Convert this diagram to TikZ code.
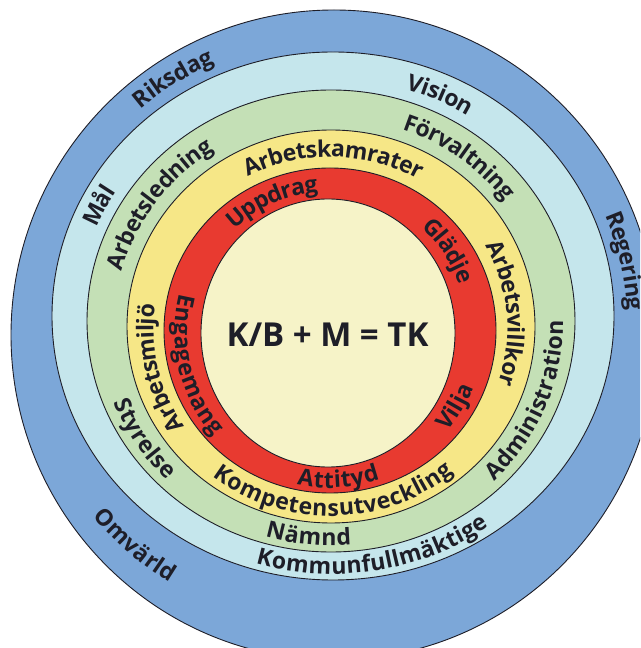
\documentclass[tikz,border=0pt]{standalone}
\usepackage{fontspec}
\setmainfont{Open Sans}
\usetikzlibrary{decorations.text}
\definecolor{cblue}{RGB}{124,167,216}
\definecolor{clblue}{RGB}{197,230,236}
\definecolor{cgreen}{RGB}{196,224,182}
\definecolor{cyellow}{RGB}{246,231,135}
\definecolor{cred}{RGB}{232,58,48}
\definecolor{ccream}{RGB}{246,243,200}
\definecolor{ctxt}{RGB}{30,30,40}
\newcommand\ringfont{\fontsize{23}{23}\selectfont\bfseries\color{ctxt}}
% #1 cx, #2 cy, #3 rx, #4 ry, #5 start angle, #6 end angle, #7 text
\newcommand\ringtext[7]{\path[decorate,decoration={text along path,text={|\ringfont|#7},text align=center,raise=-8pt}] (#1,#2) ++(#5:#3 and #4) arc[start angle=#5,end angle=#6,x radius=#3,y radius=#4];}
\tikzset{ring/.style={draw=ctxt,line width=0.9pt}}
\begin{document}
\begin{tikzpicture}[x=1pt,y=1pt]
\useasboundingbox (0,0) rectangle (640,648);
\clip (0,0) rectangle (640,648);
\fill[white] (0,0) rectangle (640,648);
\filldraw[ring,fill=cblue]   (334,313)   ellipse [x radius=323, y radius=325];
\filldraw[ring,fill=clblue]  (333,332)   ellipse [x radius=281, y radius=264];
\filldraw[ring,fill=cgreen]  (331,327)   ellipse [x radius=244, y radius=231];
\filldraw[ring,fill=cyellow] (331,321.5) ellipse [x radius=204, y radius=196.5];
\filldraw[ring,fill=cred]    (330,317.5) ellipse [x radius=166, y radius=162.5];
\filldraw[ring,fill=ccream]  (328,315)   ellipse [x radius=127, y radius=134];
% blue band
\ringtext{333.5}{322.5}{302}{294.5}{193}{53}{Riksdag}
\ringtext{333.5}{322.5}{302}{294.5}{82.5}{-57.5}{Regering}
\ringtext{333.5}{322.5}{302}{294.5}{158}{298}{Omvärld}
% light blue band
\ringtext{332}{329.5}{262.5}{247.5}{134.4}{-5.6}{Vision}
\ringtext{332}{329.5}{262.5}{247.5}{224}{84}{Mål}
\ringtext{332}{329.5}{262.5}{247.5}{200}{360}{Kommunfullmäktige}
% green band
\ringtext{331}{324.25}{224}{213.75}{225}{65}{Arbetsledning}
\ringtext{331}{324.25}{224}{213.75}{132.5}{-27.5}{Förvaltning}
\ringtext{331}{324.25}{224}{213.75}{258.5}{418.5}{Administration}
\ringtext{331}{324.25}{224}{213.75}{184}{344}{Nämnd}
\ringtext{331}{324.25}{224}{213.75}{131.7}{291.7}{Styrelse}
% yellow band
\ringtext{330.5}{319.5}{185}{179.5}{169}{9}{Arbetskamrater}
\ringtext{330.5}{319.5}{185}{179.5}{85}{-75}{Arbetsvillkor}
\ringtext{330.5}{319.5}{185}{179.5}{273}{113}{Arbetsmiljö}
\ringtext{330.5}{319.5}{185}{179.5}{191}{351}{Kompetensutveckling}
% red band
\ringtext{329}{316.25}{146.5}{148.25}{183.6}{43.6}{Uppdrag}
\ringtext{329}{316.25}{146.5}{148.25}{104}{-36}{Glädje}
\ringtext{329}{316.25}{146.5}{148.25}{259.4}{399.4}{Vilja}
\ringtext{329}{316.25}{146.5}{148.25}{203.6}{343.6}{Attityd}
\ringtext{329}{316.25}{146.5}{148.25}{124}{264}{Engagemang}
\node[anchor=base,text=ctxt,font=\fontsize{33}{33}\selectfont\bfseries] (formula) at (327.5,301) {K/B + M = TK};
\end{tikzpicture}
\end{document}
